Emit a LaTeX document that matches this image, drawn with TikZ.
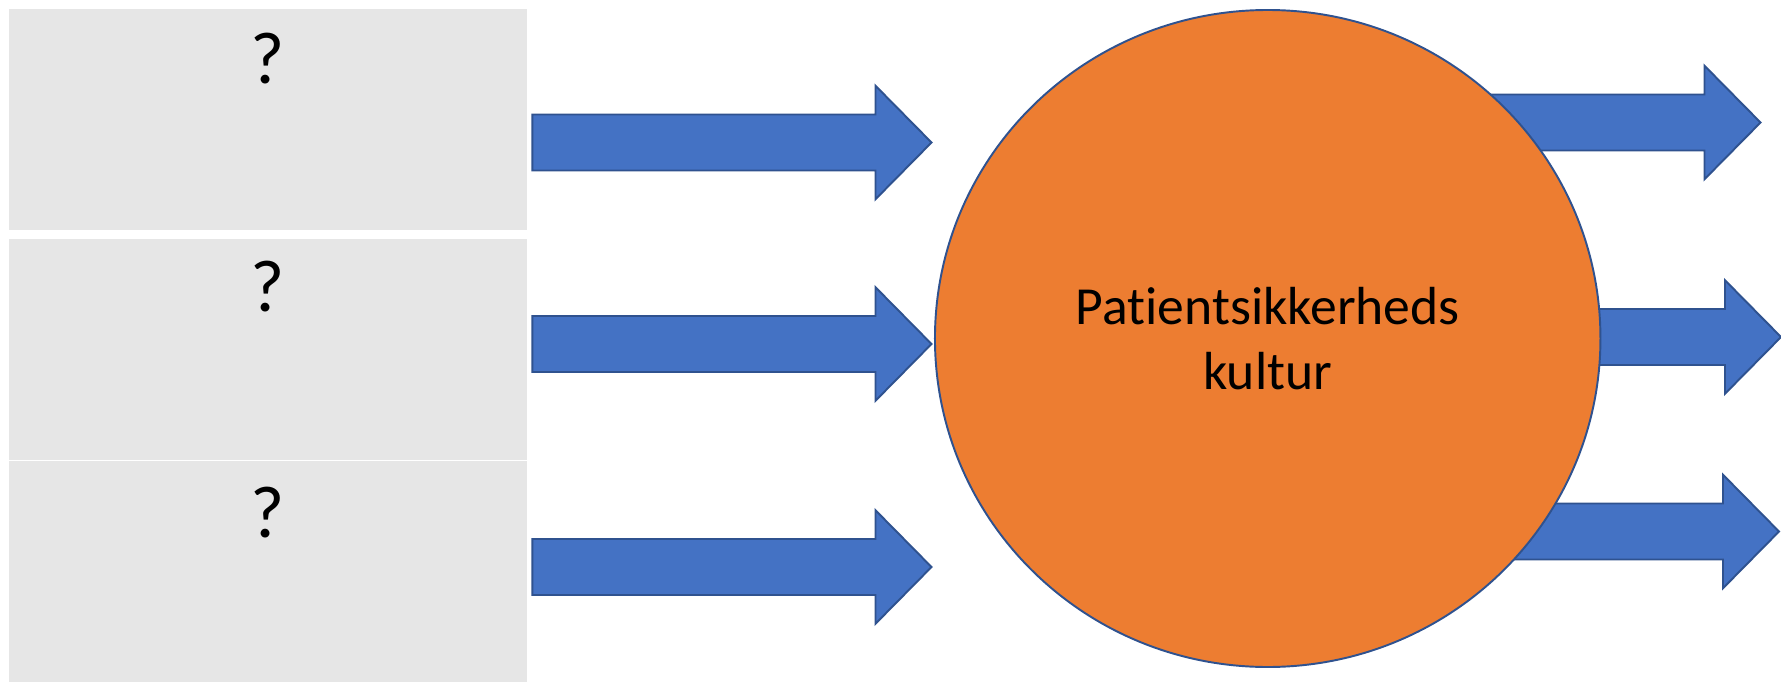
\documentclass[tikz,border=0pt]{standalone}
\usepackage{fontspec}
\setmainfont{Carlito}[Ligatures={NoCommon}]
\usetikzlibrary{calc,shapes.geometric}

\definecolor{boxgray}{HTML}{E6E6E6}
\definecolor{arrowblue}{HTML}{4472C4}
\definecolor{edgeblue}{HTML}{2F528F}
\definecolor{coreorange}{HTML}{ED7D31}

% block arrow from #1 to the tip #2 (same height)
\newcommand{\fatarrow}[2]{%
  \draw[fat] ($(#1)+(0,0.56)$) -- ($(#2)+(-1.12,0.56)$) -- ($(#2)+(-1.12,1.135)$)
    -- (#2) -- ($(#2)+(-1.12,-1.135)$) -- ($(#2)+(-1.12,-0.56)$)
    -- ($(#1)+(0,-0.56)$) -- cycle;}

\begin{document}
\begin{tikzpicture}[
  qbox/.style={fill=boxgray, minimum width=10.36cm, minimum height=4.42cm,
               inner sep=0},
  qmark/.style={anchor=north, inner sep=0, font=\fontsize{42}{50}\selectfont},
  fat/.style={fill=arrowblue, draw=edgeblue, line width=1.1pt},
  core/.style={ellipse, fill=coreorange, draw=edgeblue, line width=1.1pt,
               minimum width=13.31cm, minimum height=13.14cm, inner sep=0,
               align=center, font=\fontsize{30.5}{37}\selectfont}
]
  \useasboundingbox (0,0) rectangle (35.62,13.64);

  % the three open questions
  \node[qbox] (b1) at (5.36,11.25) {};
  \node[qbox] (b2) at (5.36,6.66)  {};
  \node[qbox] (b3) at (5.36,2.21)  {};
  \node[qmark] (q1) at ($(b1.north)+(0,-0.48)$) {?};
  \node[qmark] (q2) at ($(b2.north)+(0,-0.46)$) {?};
  \node[qmark] (q3) at ($(b3.north)+(0,-0.52)$) {?};

  % tips of the arrows
  \coordinate (t1) at (18.63,10.79);
  \coordinate (t2) at (18.63,6.76);
  \coordinate (t3) at (18.63,2.30);
  \coordinate (o1) at (35.21,11.19);
  \coordinate (o2) at (35.62,6.90);
  \coordinate (o3) at (35.58,3.01);

  % outgoing arrows go behind the circle
  \fatarrow{26,0 |- o1}{o1}
  \fatarrow{26,0 |- o2}{o2}
  \fatarrow{26,0 |- o3}{o3}

  \node[core] (kultur) at (25.354,6.87) {Patientsikkerheds\\kultur};

  \fatarrow{$(b1.east |- t1)+(0.1,0)$}{t1}
  \fatarrow{$(b2.east |- t2)+(0.1,0)$}{t2}
  \fatarrow{$(b3.east |- t3)+(0.1,0)$}{t3}
\end{tikzpicture}
\end{document}
